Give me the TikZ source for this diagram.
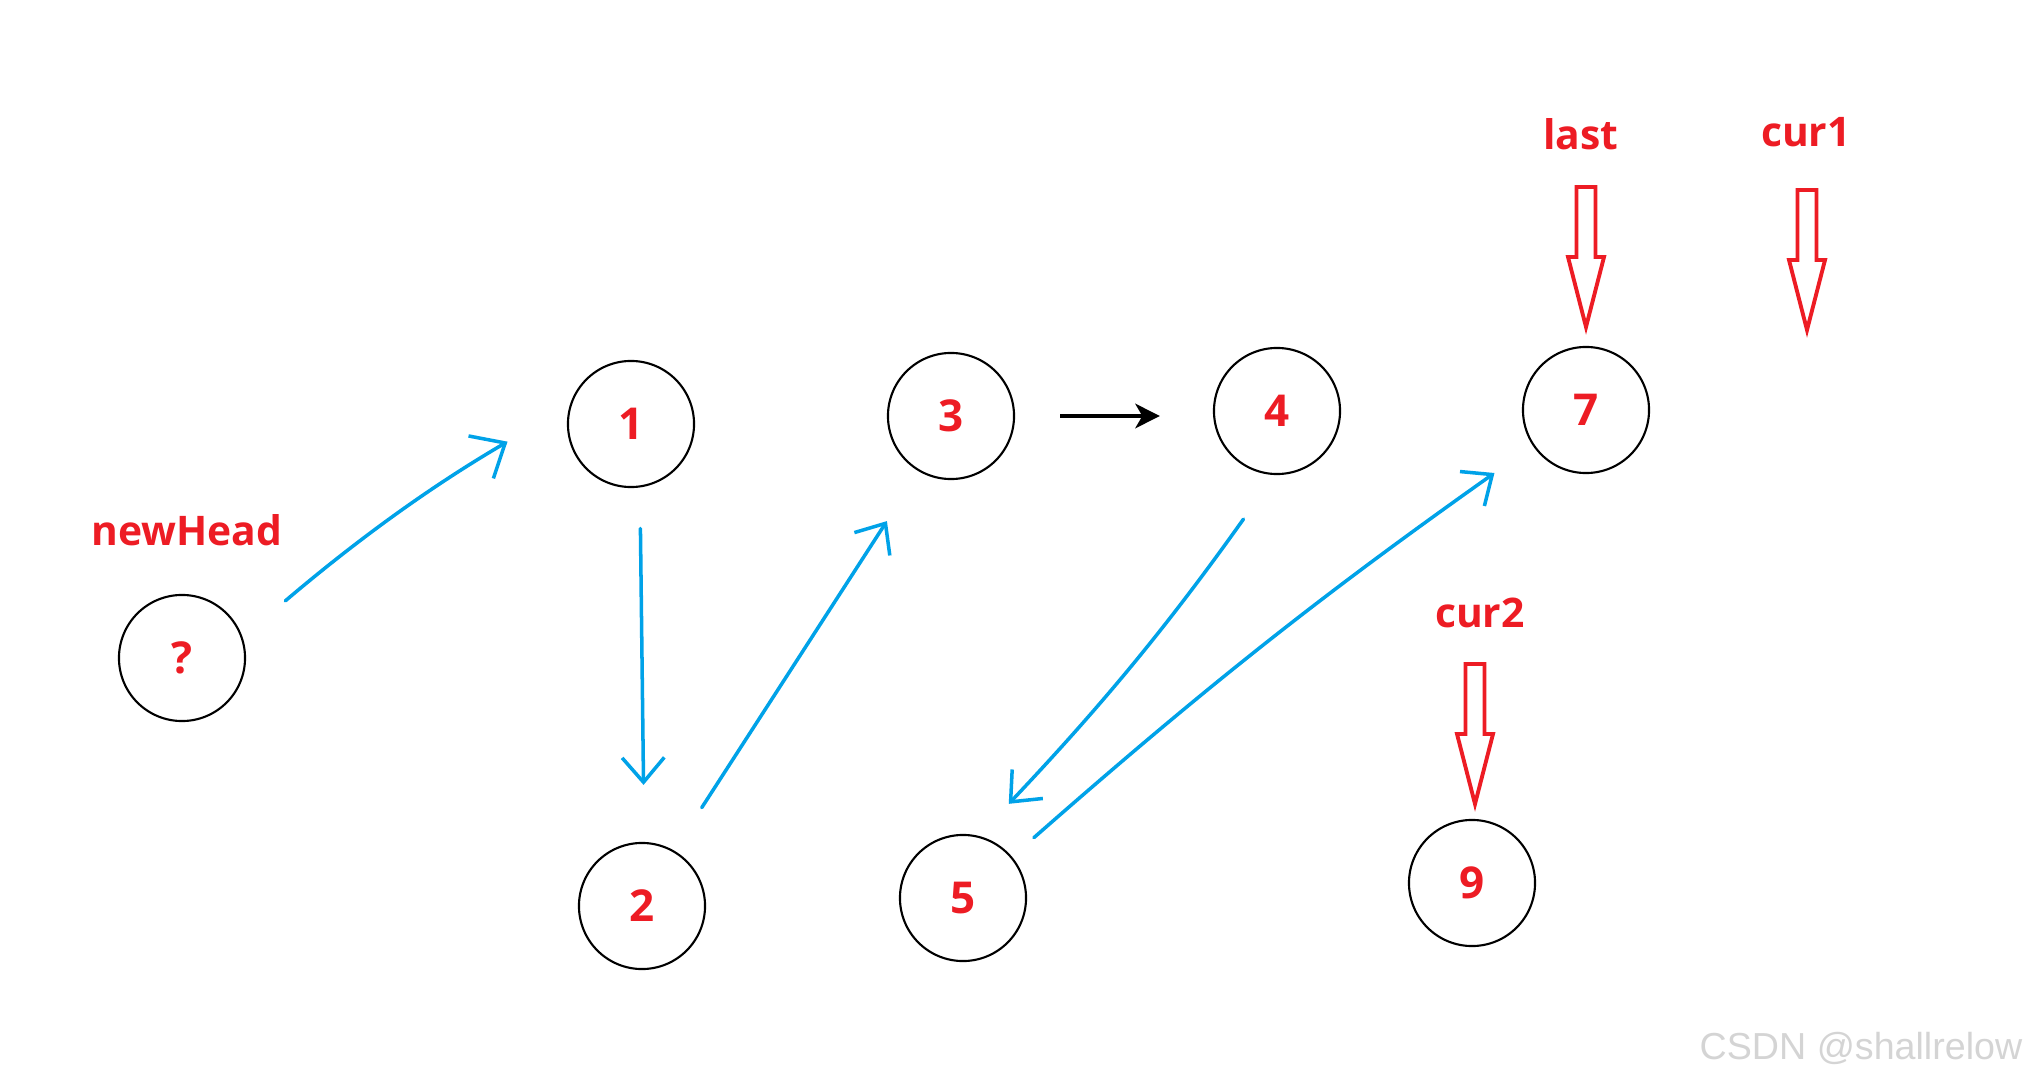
\documentclass[tikz,border=0pt]{standalone}
\usepackage{fontspec}
\setmainfont{Open Sans}
\newfontfamily\wmfont{Liberation Sans}
\usetikzlibrary{positioning, arrows.meta}
\definecolor{pRed}{HTML}{ED1C24}
\definecolor{pBlue}{HTML}{00A2E8}
\definecolor{wmGray}{HTML}{D4D4D4}
\tikzset{
  listnode/.style={circle, draw=black, line width=0.6pt, minimum size=1.26cm,
    inner sep=0pt, font=\fontsize{12.5}{14}\selectfont\bfseries, text=pRed},
  ptrlabel/.style={font=\fontsize{11.6}{14}\selectfont\bfseries, text=pRed},
  hand/.style={pBlue, line width=1pt, line cap=round, line join=round,
    -{Straight Barb[length=7pt, width=12pt]}},
  nextarr/.style={black, line width=0.9pt, -{Stealth[length=7pt, width=7pt, inset=2pt]}},
  ptr/.pic={
    \draw[pRed, line width=1.1pt, line join=miter]
      (-9.5,0) -- (9.5,0) -- (9.5,70) -- (18,70) -- (0,140) -- (-18,70) -- (-9.5,70) -- cycle;
  },
}

\begin{document}
\begin{tikzpicture}[x=0.01cm, y=-0.01cm]
  \useasboundingbox (0,0) rectangle (2027,1085);

  % list nodes
  \node[listnode] (q)  at (182,658)  {?};
  \node[listnode] (n1) at (631,424)  {1};
  \node[listnode] (n2) at (642,906)  {2};
  \node[listnode] (n3) at (951,416)  {3};
  \node[listnode] (n4) at (1277,411) {4};
  \node[listnode] (n5) at (963,898)  {5};
  \node[listnode] (n7) at (1586,410) {7};
  \node[listnode] (n9) at (1472,883) {9};

  % pointer names
  \node[ptrlabel] (newhead) at (187,530)  {newHead};
  \node[ptrlabel] (last)    at (1581,134) {last};
  \node[ptrlabel] (cur1)    at (1806,132) {cur1};
  \node[ptrlabel] (cur2)    at (1480,613) {cur2};

  % hollow pointer arrows
  \pic at (1586,187) {ptr};
  \pic at (1807,190) {ptr};
  \pic at (1475,664) {ptr};

  % links
  \draw[hand, -{Straight Barb[length=8pt, width=14pt]}, shorten <=0.56cm, shorten >=0.72cm]
    (q.19) to[bend left=5] (n1.163);
  \draw[hand, shorten <=0.41cm, shorten >=0.57cm] (n1.278) -- (n2.88);
  \draw[hand, shorten <=0.51cm, shorten >=0.59cm] (n2.60) -- (n3.240);
  \draw[nextarr, shorten <=0.45cm, shorten >=0.53cm] (n3.east) -- (n3.east -| n4.west);
  \draw[hand, shorten <=0.54cm, shorten >=0.44cm] (n4.268) to[bend left=4] (n5.76);
  \draw[hand, shorten <=0.29cm, shorten >=0.47cm] (n5.40) to[bend left=3] (n7.214);

  \node[text=wmGray, font=\wmfont\fontsize{10.7}{12}\selectfont] (wm) at (1861,1048) {CSDN @shallrelow};
\end{tikzpicture}
\end{document}
